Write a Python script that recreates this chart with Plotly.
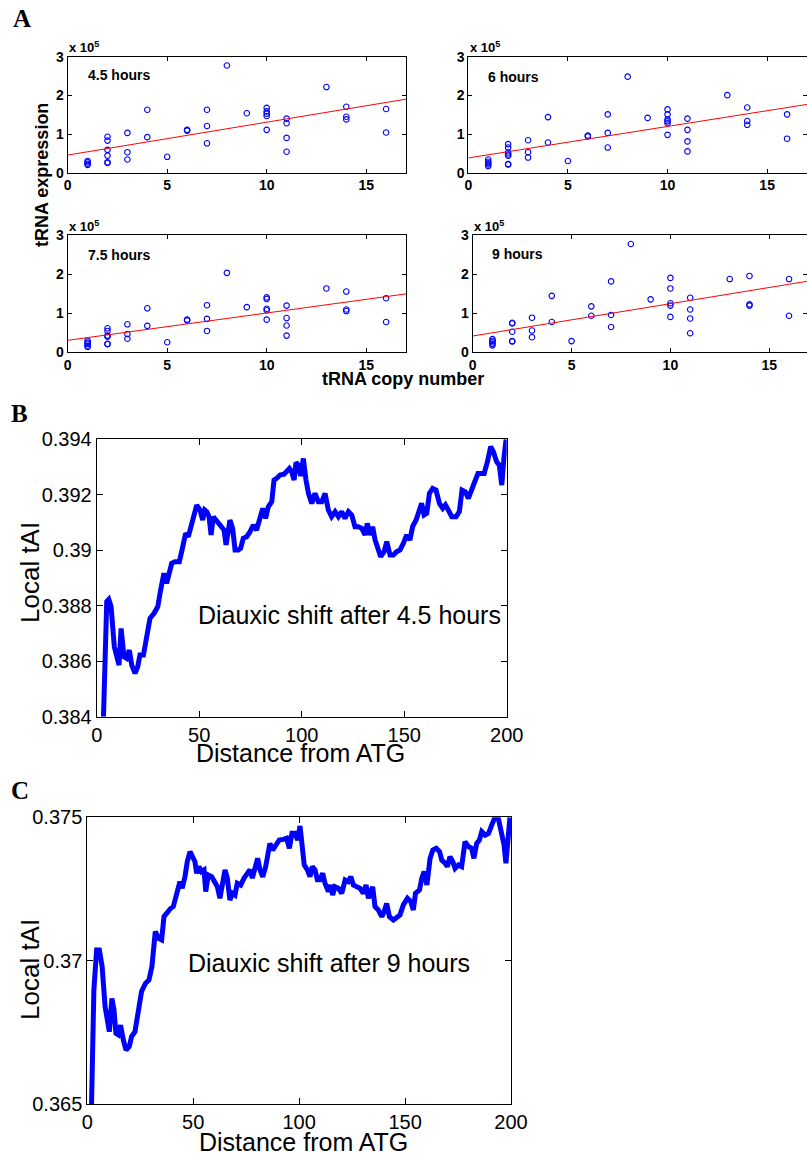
import plotly.graph_objects as go

W, H = 807, 1158

# ---------------- Panel A data (tRNA expression in units of 1e5) ----------------
panel_titles = ["4.5 hours", "6 hours", "7.5 hours", "9 hours"]

copy_45 = [1, 1, 1, 1, 2, 2, 2, 2, 2, 2, 3, 3, 3, 4, 4, 5, 6, 6, 7, 7, 7, 8, 9,
           10, 10, 10, 10, 10, 11, 11, 11, 11, 13, 14, 14, 14, 16, 16]
expr_45 = [0.30, 0.27, 0.23, 0.20, 0.93, 0.83, 0.59, 0.44, 0.27, 0.25, 1.03, 0.53, 0.34,
           1.63, 0.92, 0.41, 1.11, 1.09, 1.63, 1.21, 0.76, 2.78, 1.54,
           1.68, 1.59, 1.53, 1.47, 1.11, 1.40, 1.28, 0.90, 0.54, 2.22, 1.71, 1.45, 1.38, 1.65, 1.04]

copy_6 = [1, 1, 1, 1, 1, 2, 2, 2, 2, 2, 2, 2, 3, 3, 3, 4, 4, 5, 6, 6, 7, 7, 7, 8, 9,
          10, 10, 10, 10, 10, 10, 11, 11, 11, 11, 13, 14, 14, 14, 16, 16]
expr_6 = [0.34, 0.28, 0.24, 0.21, 0.17, 0.74, 0.65, 0.52, 0.47, 0.44, 0.22, 0.21,
          0.84, 0.53, 0.39, 1.44, 0.78, 0.30, 0.96, 0.94, 1.51, 1.03, 0.65, 2.49, 1.42,
          1.64, 1.51, 1.38, 1.33, 1.28, 0.98, 1.40, 1.11, 0.81, 0.55, 2.01, 1.69, 1.34, 1.24, 1.51, 0.88]

copy_75 = [1, 1, 1, 1, 1, 2, 2, 2, 2, 2, 2, 3, 3, 3, 4, 4, 5, 6, 6, 7, 7, 7, 8, 9,
           10, 10, 10, 10, 10, 11, 11, 11, 11, 13, 14, 14, 14, 16, 16]
expr_75 = [0.29, 0.24, 0.21, 0.16, 0.13, 0.61, 0.54, 0.42, 0.39, 0.21, 0.20,
           0.71, 0.46, 0.34, 1.12, 0.67, 0.25, 0.83, 0.81, 1.20, 0.85, 0.54, 2.03, 1.15,
           1.40, 1.36, 1.11, 1.07, 0.83, 1.19, 0.87, 0.68, 0.42, 1.63, 1.55, 1.09, 1.05, 1.38, 0.77]

copy_9 = [1, 1, 1, 1, 1, 2, 2, 2, 2, 2, 3, 3, 3, 4, 4, 5, 6, 6, 7, 7, 7, 8, 9,
          10, 10, 10, 10, 10, 11, 11, 11, 11, 13, 14, 14, 14, 16, 16]
expr_9 = [0.33, 0.29, 0.25, 0.21, 0.17, 0.75, 0.73, 0.52, 0.28, 0.27,
          0.88, 0.55, 0.38, 1.44, 0.77, 0.28, 1.17, 0.93, 1.81, 0.95, 0.64, 2.77, 1.35,
          1.90, 1.63, 1.25, 1.19, 0.90, 1.39, 1.09, 0.86, 0.48, 1.87, 1.95, 1.22, 1.19, 1.87, 0.93]

fit_x = [0, 17]
fit_45 = [0.455, 1.905]
fit_6 = [0.38, 1.77]
fit_75 = [0.30, 1.49]
fit_9 = [0.41, 1.82]

a_yticks = [0, 1, 2, 3]
a_xticks = [0, 5, 10, 15]

# ---------------- Panel B data ----------------
dist_B = [3.3, 4.1, 4.9, 5.9, 7.0, 8.6, 10.9, 11.9, 13.3, 14.6, 15.9, 17.1, 18.7, 20.0, 21.1, 22.8,
          24.4, 26.0, 28.0, 29.8, 31.2, 32.8, 34.1, 35.4, 36.6, 38.2, 40.3, 41.8, 43.4, 44.7, 46.0,
          47.5, 48.8, 50.4, 51.7, 52.7, 53.7, 54.8, 55.8, 56.9, 58.2, 60.2, 62.1, 63.1, 65.0, 66.3,
          67.5, 69.1, 70.2, 71.5, 73.2, 74.8, 76.4, 78.0, 79.3, 81.0, 82.4, 83.7, 85.4, 86.5, 87.8,
          89.4, 91.4, 92.7, 94.0, 95.1, 96.3, 97.2, 98.4, 99.5, 100.8, 102.1, 103.3, 104.9, 106.5,
          108.1, 109.8, 111.4, 113.0, 114.6, 116.3, 117.9, 119.5, 121.1, 122.8, 124.4, 126.0, 127.6,
          129.3, 130.9, 132.0, 133.3, 134.6, 135.8, 136.9, 138.5, 140.2, 141.5, 143.1, 144.7, 146.3,
          148.0, 149.6, 151.2, 152.8, 154.1, 155.8, 157.4, 158.5, 159.7, 161.0, 162.3, 163.9, 165.5,
          167.2, 168.8, 170.1, 171.5, 173.2, 175.3, 176.9, 178.2, 179.8, 181.3, 182.8, 184.4, 186.0,
          187.3, 189.0, 190.6, 192.2, 193.5, 195.1, 196.4, 197.6, 198.7, 199.7]
tai_B = [0.3840, 0.3860, 0.38815, 0.38823, 0.38797, 0.38652, 0.38586, 0.38718, 0.38616, 0.38610,
         0.38640, 0.38586, 0.38556, 0.38580, 0.38622, 0.38622, 0.38682, 0.38755, 0.38773, 0.38797,
         0.38857, 0.38917, 0.38881, 0.38929, 0.38953, 0.38959, 0.38959, 0.39007, 0.39061, 0.39049,
         0.39085, 0.39133, 0.39163, 0.39145, 0.39109, 0.39145, 0.39139, 0.39121, 0.39055, 0.39121,
         0.39109, 0.39091, 0.39073, 0.39019, 0.39109, 0.39079, 0.39001, 0.39001, 0.39007, 0.39043,
         0.39049, 0.39067, 0.39091, 0.39073, 0.39103, 0.39151, 0.39115, 0.39157, 0.39175, 0.39253,
         0.39259, 0.39271, 0.39274, 0.39283, 0.39295, 0.39283, 0.39253, 0.39316, 0.39307, 0.39268,
         0.39331, 0.39253, 0.39205, 0.39169, 0.39205, 0.39175, 0.39175, 0.39205, 0.39145, 0.39121,
         0.39139, 0.39121, 0.39139, 0.39115, 0.39139, 0.39127, 0.39085, 0.39085, 0.39079, 0.39055,
         0.39097, 0.39055, 0.39085, 0.39037, 0.39007, 0.38977, 0.38995, 0.39031, 0.38983, 0.38983,
         0.38995, 0.39001, 0.39025, 0.39055, 0.39037, 0.39085, 0.39109, 0.39145, 0.39169, 0.39127,
         0.39133, 0.39205, 0.39223, 0.39217, 0.39169, 0.39151, 0.39163, 0.39145, 0.39121, 0.39121,
         0.39139, 0.39217, 0.39211, 0.39187, 0.39223, 0.39247, 0.39277, 0.39277, 0.39277, 0.39319,
         0.39374, 0.39355, 0.39319, 0.39307, 0.39235, 0.39337, 0.39400]

# ---------------- Panel C data ----------------
dist_C = [2.0, 3.1, 4.4, 5.7, 7.0, 8.4, 10.4, 11.6, 12.6, 13.5, 14.6, 15.7, 17.0, 18.3, 19.8, 20.9,
          22.5, 24.1, 25.6, 27.5, 29.1, 30.5, 32.1, 33.7, 35.1, 36.2, 37.8, 39.4, 40.6, 41.7, 42.7,
          43.7, 44.8, 46.1, 47.2, 48.5, 49.7, 50.8, 51.6, 52.7, 53.8, 55.1, 55.9, 57.1, 58.7, 60.3,
          61.4, 62.6, 63.9, 65.0, 66.1, 67.3, 68.6, 69.7, 70.8, 72.4, 74.0, 75.5, 76.8, 77.9, 79.2,
          80.4, 81.5, 82.8, 84.2, 85.4, 86.2, 87.5, 89.1, 90.6, 92.5, 94.1, 95.4, 96.6, 98.0, 99.3,
          100.4, 101.5, 102.4, 103.9, 105.1, 106.2, 107.5, 108.6, 109.8, 111.1, 112.2, 113.8, 114.9,
          115.8, 116.9, 118.5, 120.1, 121.7, 123.2, 124.4, 125.6, 127.2, 128.7, 130.3, 131.6, 132.7,
          133.8, 134.7, 135.8, 137.4, 139.0, 140.1, 141.3, 142.6, 144.5, 146.4, 147.6, 149.2, 151.1,
          152.7, 153.9, 154.9, 156.8, 157.9, 159.0, 160.3, 161.8, 163.1, 164.7, 166.3, 167.3, 168.9,
          170.0, 171.2, 172.5, 173.6, 175.2, 176.7, 178.3, 179.9, 181.4, 182.5, 183.8, 185.1, 186.2,
          187.8, 189.4, 190.9, 192.4, 194.0, 195.6, 196.7, 197.6, 198.7, 199.5]
tai_C = [0.3650, 0.36898, 0.37038, 0.37038, 0.36980, 0.36840, 0.36753, 0.36869, 0.36829, 0.36747,
         0.36742, 0.36776, 0.36724, 0.36689, 0.36701, 0.36736, 0.36753, 0.36817, 0.36893, 0.36922,
         0.36933, 0.36980, 0.37102, 0.37078, 0.37073, 0.37154, 0.37171, 0.37183, 0.37189, 0.37229,
         0.37247, 0.37276, 0.37253, 0.37293, 0.37346, 0.37380, 0.37357, 0.37346, 0.37305, 0.37328,
         0.37311, 0.37317, 0.37241, 0.37299, 0.37293, 0.37276, 0.37258, 0.37218, 0.37282, 0.37317,
         0.37288, 0.37212, 0.37235, 0.37229, 0.37270, 0.37264, 0.37288, 0.37305, 0.37317, 0.37288,
         0.37322, 0.37357, 0.37317, 0.37293, 0.37328, 0.37369, 0.37409, 0.37386, 0.37404, 0.37421,
         0.37423, 0.37427, 0.37392, 0.37444, 0.37444, 0.37421, 0.37470, 0.37409, 0.37334, 0.37317,
         0.37293, 0.37328, 0.37317, 0.37282, 0.37282, 0.37305, 0.37270, 0.37241, 0.37264, 0.37229,
         0.37258, 0.37253, 0.37235, 0.37282, 0.37276, 0.37293, 0.37264, 0.37258, 0.37253, 0.37235,
         0.37264, 0.37218, 0.37241, 0.37258, 0.37189, 0.37177, 0.37154, 0.37171, 0.37200, 0.37154,
         0.37142, 0.37154, 0.37160, 0.37195, 0.37218, 0.37206, 0.37177, 0.37235, 0.37247, 0.37288,
         0.37311, 0.37264, 0.37357, 0.37386, 0.37392, 0.37380, 0.37351, 0.37340, 0.37328, 0.37363,
         0.37346, 0.37322, 0.37334, 0.37328, 0.37415, 0.37398, 0.37392, 0.37357, 0.37409, 0.37421,
         0.37450, 0.37438, 0.37444, 0.37473, 0.37500, 0.37497, 0.37450, 0.37404, 0.37340, 0.37433,
         0.37500]

b_xticks = [0, 50, 100, 150, 200]
b_yticks = [0.384, 0.386, 0.388, 0.390, 0.392, 0.394]
b_yticktext = ["0.384", "0.386", "0.388", "0.39", "0.392", "0.394"]
c_yticks = [0.365, 0.370, 0.375]
c_yticktext = ["0.365", "0.37", "0.375"]


def px(x):
    return x / W


def py(y):
    return 1 - y / H


SANS = "Liberation Sans"
SERIF = "Liberation Serif"
BLUE = "#0000FF"
RED = "#FF0000"

fig = go.Figure()

scatter_sets = [(copy_45, expr_45, fit_45), (copy_6, expr_6, fit_6),
                (copy_75, expr_75, fit_75), (copy_9, expr_9, fit_9)]
for i, (cx, ey, fy) in enumerate(scatter_sets):
    xa = "x" if i == 0 else f"x{i + 1}"
    ya = "y" if i == 0 else f"y{i + 1}"
    fig.add_trace(go.Scatter(x=cx, y=ey, mode="markers", xaxis=xa, yaxis=ya,
                             marker=dict(symbol="circle-open", size=5.5, color=BLUE,
                                         line=dict(width=1.1, color=BLUE)),
                             showlegend=False, cliponaxis=False))
    fig.add_trace(go.Scatter(x=fit_x, y=fy, mode="lines", xaxis=xa, yaxis=ya,
                             line=dict(color=RED, width=1), showlegend=False))

fig.add_trace(go.Scatter(x=dist_B, y=tai_B, mode="lines", xaxis="x5", yaxis="y5",
                         line=dict(color=BLUE, width=5), showlegend=False))
fig.add_trace(go.Scatter(x=dist_C, y=tai_C, mode="lines", xaxis="x6", yaxis="y6",
                         line=dict(color=BLUE, width=5), showlegend=False))

a_font = dict(family=SANS, size=14, color="black", weight="bold")
common = dict(showline=True, linecolor="black", linewidth=1, mirror="ticks",
              ticks="inside", tickcolor="black", showgrid=False, zeroline=False,
              automargin=False)

# panel A axis domains (pixels)
a_dom = [
    ((67.7, 406), (57, 172.6), [0, 17]),
    ((468.3, 807), (57, 172.6), [0, 17]),
    ((67.7, 406), (235, 352), [0, 17]),
    ((472.7, 807), (235, 352), [0, (807 - 472.7) / 19.77]),
]
layout = dict(template="none", width=W, height=H, margin=dict(l=0, r=0, t=0, b=0, pad=0),
              autosize=False,
              paper_bgcolor="white", plot_bgcolor="white", showlegend=False)
for i, ((x0, x1), (y0, y1), xr) in enumerate(a_dom):
    xk = "xaxis" if i == 0 else f"xaxis{i + 1}"
    yk = "yaxis" if i == 0 else f"yaxis{i + 1}"
    xref = "x" if i == 0 else f"x{i + 1}"
    yref = "y" if i == 0 else f"y{i + 1}"
    layout[xk] = dict(common, domain=[px(x0), min(px(x1), 1.0)], range=xr, anchor=yref,
                      tickvals=a_xticks, ticklen=4, tickfont=a_font)
    layout[yk] = dict(common, domain=[py(y1), py(y0)], range=[0, 3], anchor=xref,
                      tickvals=a_yticks, ticklen=4, tickfont=a_font)

big_tick = dict(family=SANS, size=20, color="black")
layout["xaxis5"] = dict(common, domain=[px(96.7), px(506.7)], range=[0, 200], anchor="y5",
                        tickvals=b_xticks, ticklen=6, tickfont=big_tick)
layout["yaxis5"] = dict(common, domain=[py(716.7), py(439.3)], range=[0.384, 0.394], anchor="x5",
                        tickvals=b_yticks, ticktext=b_yticktext, ticklen=6, tickfont=big_tick)
layout["xaxis6"] = dict(common, domain=[px(87.3), px(511)], range=[0, 200], anchor="y6",
                        tickvals=b_xticks, ticklen=6, tickfont=big_tick)
layout["yaxis6"] = dict(common, domain=[py(1104.3), py(817.3)], range=[0.365, 0.375], anchor="x6",
                        tickvals=c_yticks, ticktext=c_yticktext, ticklen=6, tickfont=big_tick)

fig.update_layout(**layout)

ann = []


def add_text(text, x, y, size, family=SANS, bold=False, xanchor="left", yanchor="middle", angle=0):
    ann.append(dict(text=text, x=px(x), y=py(y), xref="paper", yref="paper",
                    xanchor=xanchor, yanchor=yanchor, showarrow=False, textangle=angle,
                    font=dict(family=family, size=size, color="black",
                              weight="bold" if bold else "normal")))


# panel letters
add_text("A", 11, 19, 25, family=SERIF, bold=True)
add_text("B", 9, 414, 25, family=SERIF, bold=True)
add_text("C", 9, 790, 25, family=SERIF, bold=True)

# panel A annotations
title_pos = [(86, 75), (486, 76.5), (86, 255), (490, 254)]
for t, (tx, ty) in zip(panel_titles, title_pos):
    add_text(t, tx, ty, 14, bold=True)
for (x0, y0) in [(67, 47), (468, 47), (67, 226), (472, 226)]:
    add_text("x 10<sup>5</sup>", x0, y0, 13, bold=True)
add_text("tRNA expression", 42, 175, 18, bold=True, xanchor="center", angle=-90)
add_text("tRNA copy number", 403, 379, 18, bold=True, xanchor="center")

# panel B/C annotations
add_text("Diauxic shift after 4.5 hours", 349, 615, 25, xanchor="center")
add_text("Diauxic shift after 9 hours", 329, 963, 25, xanchor="center")
add_text("Local tAI", 30, 573, 26, xanchor="center", angle=-90)
add_text("Local tAI", 30, 970, 26, xanchor="center", angle=-90)
add_text("Distance from ATG", 300, 753, 25, xanchor="center")
add_text("Distance from ATG", 303, 1142, 25, xanchor="center")

fig.update_layout(annotations=ann)

fig.write_html("out.html")
